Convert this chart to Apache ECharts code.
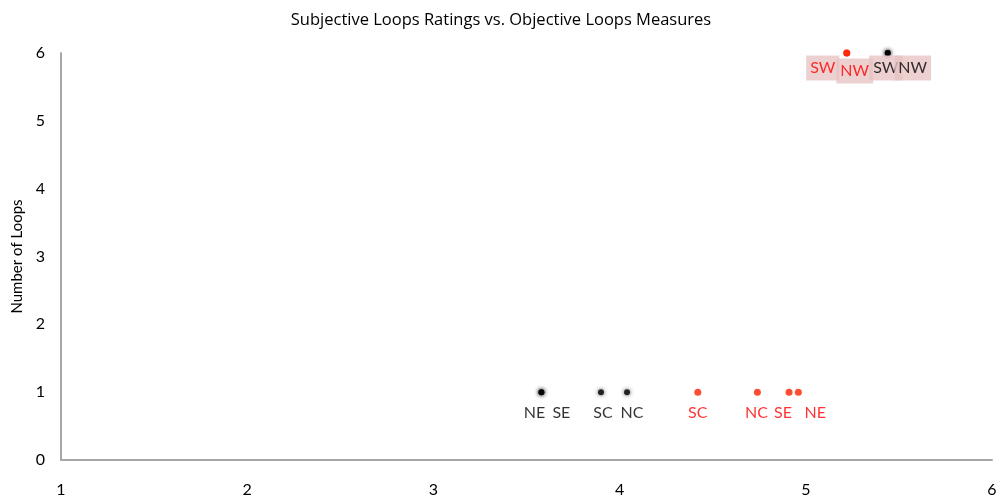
<!DOCTYPE html>
<html>
<head>
<meta charset="utf-8">
<script src="https://cdn.jsdelivr.net/npm/echarts@6/dist/echarts.min.js"></script>
<style>
  html, body { margin: 0; padding: 0; background: #fff; }
  #chart { width: 1002px; height: 499px; }
</style>
</head>
<body>
<div id="chart"></div>
<script>
// regions and their values (objective measure on x, number of loops on y)
const blackNames = ['NE', 'SE', 'SC', 'NC', 'SW', 'NW']
const blackX = [3.58, 3.58, 3.9, 4.04, 5.44, 5.44]
const blackY = [1, 1, 1, 1, 6, 6]

const redNames = ['SC', 'NC', 'SE', 'NE', 'SW', 'NW']
const redX = [4.42, 4.74, 4.91, 4.96, 5.22, 5.22]
const redY = [1, 1, 1, 1, 6, 6]

const xTicks = [1, 2, 3, 4, 5, 6]
const yTicks = [0, 1, 2, 3, 4, 5, 6]

const font = 'Lato, "Open Sans", sans-serif'

// label placement, relative to the dot
const blackOffsets = [[-7, 21], [20, 21], [2, 21], [5, 21], [-2, 15], [25, 15]]
const redOffsets = [[0, 21], [-1, 21], [-6, 21], [17, 21], [-24, 15], [8, 18]]

const makeData = (names, xs, ys, offsets, color) =>
  names.map((n, i) => {
    const top = ys[i] === 6
    return {
      name: n,
      value: [xs[i], ys[i]],
      label: {
        show: true,
        formatter: n,
        position: 'inside',
        offset: offsets[i],
        color: color,
        fontSize: 16,
        fontFamily: font,
        backgroundColor: top ? '#e8c4c4' : 'transparent',
        padding: top ? [5, 4, 4, 4] : 0
      }
    }
  })

const chart = echarts.init(document.getElementById('chart'))
const option = {
  animation: false,
  title: {
    text: 'Subjective Loops Ratings vs. Objective Loops Measures',
    left: 'center',
    top: 7,
    textStyle: { fontSize: 16.5, fontWeight: 'normal', color: '#000', fontFamily: '"Open Sans", sans-serif' }
  },
  grid: { left: 61, right: 10, top: 53, bottom: 39, outerBoundsMode: 'none' },
  xAxis: {
    type: 'value',
    min: xTicks[0],
    max: xTicks[xTicks.length - 1],
    interval: 1,
    splitLine: { show: false },
    axisTick: { show: false },
    axisLine: { lineStyle: { color: '#a6a6a6', width: 2 } },
    axisLabel: { color: '#000', fontSize: 16, fontFamily: font, margin: 22 }
  },
  yAxis: {
    type: 'value',
    min: yTicks[0],
    max: yTicks[yTicks.length - 1],
    interval: 1,
    name: 'Number of Loops',
    nameLocation: 'middle',
    nameGap: 36,
    nameTextStyle: { color: '#000', fontSize: 15, fontFamily: font },
    splitLine: { show: false },
    axisTick: { show: false },
    axisLine: { show: true, lineStyle: { color: '#a6a6a6', width: 2 } },
    axisLabel: { color: '#000', fontSize: 16, fontFamily: font, margin: 16 }
  },
  series: [
    {
      name: 'black',
      type: 'scatter',
      symbolSize: 6,
      z: 3,
      itemStyle: { color: '#000', shadowBlur: 4, shadowColor: 'rgba(0,0,0,0.8)' },
      data: makeData(blackNames, blackX, blackY, blackOffsets, '#000')
    },
    {
      name: 'red',
      type: 'scatter',
      symbolSize: 7,
      z: 4,
      itemStyle: { color: '#ff2000' },
      data: makeData(redNames, redX, redY, redOffsets, '#ff0000')
    }
  ]
}
chart.setOption(option)
window.addEventListener('resize', () => chart.resize())
</script>
</body>
</html>
